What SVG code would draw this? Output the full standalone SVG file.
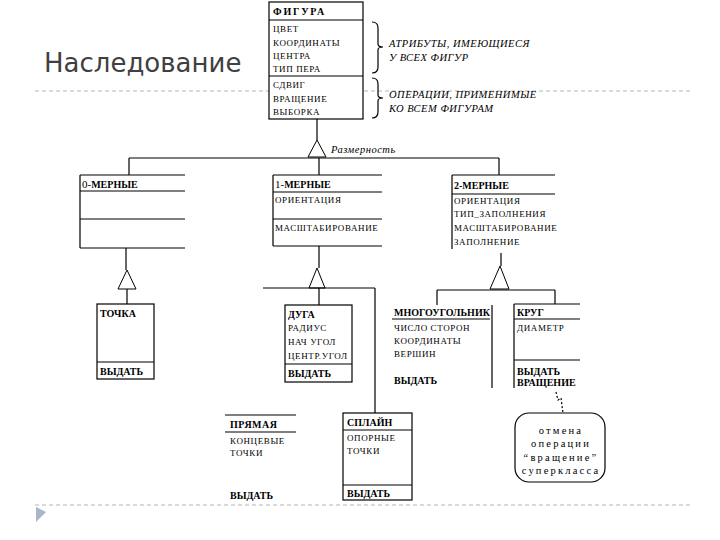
<svg xmlns="http://www.w3.org/2000/svg" width="720" height="540" viewBox="0 0 720 540">
<style>
.ln{stroke:#000;stroke-width:1.2;fill:none}
.bx{stroke:#000;stroke-width:1.2;fill:#fff}
.hd{font-family:'Liberation Serif','DejaVu Serif','Times New Roman',serif;font-size:10px;font-weight:bold;fill:#000}
.it{font-family:'Liberation Serif','DejaVu Serif','Times New Roman',serif;font-size:9px;letter-spacing:0.6px;fill:#000}
.an{font-family:'Liberation Serif','DejaVu Serif','Times New Roman',serif;font-size:10.5px;letter-spacing:0.5px;font-style:italic;fill:#000}
.nt{font-family:'Liberation Serif','DejaVu Serif','Times New Roman',serif;font-size:10.5px;fill:#000;letter-spacing:2.2px}
.tri{stroke:#000;stroke-width:1;fill:#fff}
.gd{stroke:#b4b4b4;stroke-width:1;stroke-dasharray:4 3;fill:none}
</style>
<rect width="720" height="540" fill="#fff"/>
<text x="44" y="72" font-family="'DejaVu Sans', sans-serif" font-size="26" fill="#404040">Наследование</text>
<line class="gd" x1="35" y1="91" x2="690" y2="91"/>
<line class="gd" x1="35" y1="505" x2="690" y2="505"/>
<polygon points="36,507 46,512 36,522" fill="#a8b6cc"/>
<g id="connectors">
<path class="ln" d="M317,119 V140"/>
<polygon class="tri" points="317,140 308,157 326,157"/>
<path class="ln" d="M129,158 H499 M129,158 V175 M319,158 V175 M499,158 V175"/>
<path class="ln" d="M126,248 V270"/>
<polygon class="tri" points="127,270 118,289 136,289"/>
<path class="ln" d="M127,289 V304"/>
<path class="ln" d="M319,246 V268"/>
<polygon class="tri" points="317,268 309,288 325,288"/>
<path class="ln" d="M263,288 H375 M319,288 V305 M375,288 V413"/>
<path class="ln" d="M501,253 V266"/>
<polygon class="tri" points="500,266 490,289 509,289"/>
<path class="ln" d="M437,290 H555 M437,290 V305 M555,290 V304"/>
<path class="ln" d="M556,392 L558,400 L561,398 L563,413" stroke-dasharray="2 2"/>
<path class="ln" d="M372,22 Q378,22 378,28 V44 Q378,47 383,47 Q378,47 378,50 V67 Q378,73 372,73"/>
<path class="ln" d="M372,78 Q378,78 378,84 V95 Q378,98 383,98 Q378,98 378,101 V112 Q378,118 372,118"/>
</g>
<g id="figura">
<rect class="bx" x="269" y="2" width="94" height="117"/>
<line class="ln" x1="269" y1="20" x2="363" y2="20"/>
<line class="ln" x1="269" y1="76" x2="363" y2="76"/>
<text class="hd" x="273" y="15" font-size="11" letter-spacing="1.8">ФИГУРА</text>
<text class="it" x="273" y="32">ЦВЕТ</text>
<text class="it" x="273" y="46">КООРДИНАТЫ</text>
<text class="it" x="273" y="59">ЦЕНТРА</text>
<text class="it" x="273" y="72">ТИП ПЕРА</text>
<text class="it" x="273" y="88">СДВИГ</text>
<text class="it" x="273" y="102">ВРАЩЕНИЕ</text>
<text class="it" x="273" y="115">ВЫБОРКА</text>
</g>
<g id="annotations">
<text class="an" x="389" y="47">АТРИБУТЫ, ИМЕЮЩИЕСЯ</text>
<text class="an" x="389" y="61">У ВСЕХ ФИГУР</text>
<text class="an" x="389" y="98">ОПЕРАЦИИ, ПРИМЕНИМЫЕ</text>
<text class="an" x="389" y="112">КО ВСЕМ ФИГУРАМ</text>
<text class="an" x="331" y="153" letter-spacing="0.8">Размерность</text>
</g>
<g id="dim0">
<path class="ln" d="M80,175 V248 M80,175 H185 M80,191 H185 M80,219 H185 M80,248 H185"/>
<text class="hd" x="82" y="188"><tspan font-weight="normal" font-size="11">0-</tspan>МЕРНЫЕ</text>
</g>
<g id="dim1">
<path class="ln" d="M273,175 V246 M273,175 H382 M273,192 H382 M273,219 H382 M273,246 H382"/>
<text class="hd" x="275" y="188"><tspan font-weight="normal" font-size="11">1-</tspan>МЕРНЫЕ</text>
<text class="it" x="275" y="203">ОРИЕНТАЦИЯ</text>
<text class="it" x="275" y="231">МАСШТАБИРОВАНИЕ</text>
</g>
<g id="dim2">
<path class="ln" d="M452,175 V249 M452,175 H555 M452,194 H555"/>
<text class="hd" x="454" y="189">2-МЕРНЫЕ</text>
<text class="it" x="454" y="204">ОРИЕНТАЦИЯ</text>
<text class="it" x="454" y="217">ТИП_ЗАПОЛНЕНИЯ</text>
<text class="it" x="454" y="231">МАСШТАБИРОВАНИЕ</text>
<text class="it" x="454" y="245">ЗАПОЛНЕНИЕ</text>
</g>
<g id="tochka">
<rect class="bx" x="97" y="304" width="57" height="75"/>
<line class="ln" x1="97" y1="362" x2="154" y2="362"/>
<text class="hd" x="100" y="317" font-size="9.5">ТОЧКА</text>
<text class="hd" x="100" y="375" font-size="9">ВЫДАТЬ</text>
</g>
<g id="duga">
<rect class="bx" x="285" y="305" width="67" height="77"/>
<line class="ln" x1="285" y1="364" x2="352" y2="364"/>
<text class="hd" x="288" y="318" font-size="9.5">ДУГА</text>
<text class="it" x="288" y="331">РАДИУС</text>
<text class="it" x="288" y="345">НАЧ УГОЛ</text>
<text class="it" x="288" y="359" letter-spacing="0.2">ЦЕНТР.УГОЛ</text>
<text class="hd" x="288" y="377" font-size="9.5">ВЫДАТЬ</text>
</g>
<g id="mnogougolnik">
<path class="ln" d="M392,319 H490 M492,305 V388"/>
<text class="hd" x="394" y="316" font-size="9">МНОГОУГОЛЬНИК</text>
<text class="it" x="394" y="331" letter-spacing="1">ЧИСЛО СТОРОН</text>
<text class="it" x="394" y="344">КООРДИНАТЫ</text>
<text class="it" x="394" y="357">ВЕРШИН</text>
<text class="hd" x="394" y="384" font-size="9">ВЫДАТЬ</text>
</g>
<g id="krug">
<path class="ln" d="M514,304 V388 M514,304 H580 M514,319 H580 M514,360 H580"/>
<text class="hd" x="517" y="316" font-size="9.5">КРУГ</text>
<text class="it" x="517" y="331">ДИАМЕТР</text>
<text class="hd" x="517" y="375" font-size="8.5">ВЫДАТЬ</text>
<text class="hd" x="517" y="386" font-size="8.5">ВРАЩЕНИЕ</text>
</g>
<g id="note">
<rect class="bx" x="515" y="413" width="90" height="69" rx="14"/>
<text class="nt" x="561" y="434" text-anchor="middle">отмена</text>
<text class="nt" x="561" y="447" text-anchor="middle">операции</text>
<text class="nt" x="561" y="461" text-anchor="middle" letter-spacing="1.2">“вращение”</text>
<text class="nt" x="561" y="474" text-anchor="middle" letter-spacing="1.4">суперкласса</text>
</g>
<g id="pryamaya">
<path class="ln" d="M225,415 H296 M225,432 H296"/>
<text class="hd" x="230" y="428" font-size="9.5" font-weight="normal" letter-spacing="0.5">ПРЯМАЯ</text>
<text class="it" x="230" y="444">КОНЦЕВЫЕ</text>
<text class="it" x="230" y="456">ТОЧКИ</text>
<text class="hd" x="230" y="499" font-size="9" font-weight="normal">ВЫДАТЬ</text>
</g>
<g id="splain">
<rect class="bx" x="343" y="413" width="69" height="87"/>
<line class="ln" x1="343" y1="430" x2="412" y2="430"/>
<line class="ln" x1="343" y1="485" x2="412" y2="485"/>
<text class="hd" x="347" y="426" font-size="9.5">СПЛАЙН</text>
<text class="it" x="347" y="441">ОПОРНЫЕ</text>
<text class="it" x="347" y="454">ТОЧКИ</text>
<text class="hd" x="347" y="497" font-size="9">ВЫДАТЬ</text>
</g>
</svg>
